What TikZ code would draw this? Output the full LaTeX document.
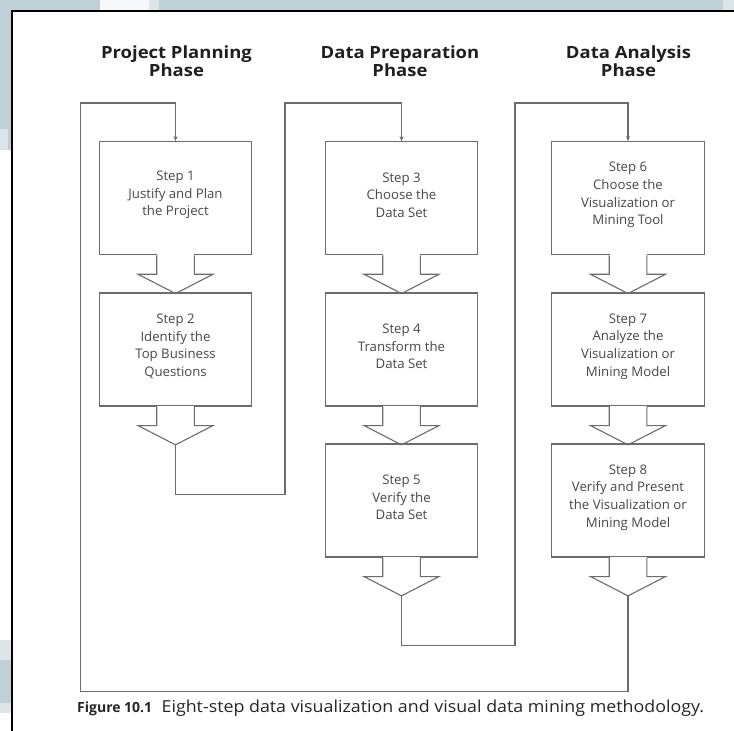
\documentclass[tikz,border=0pt]{standalone}
\usepackage{fontspec}
\setmainfont{Open Sans}
\usetikzlibrary{arrows.meta,calc}
\definecolor{bgblue}{HTML}{BFD1D7}
\definecolor{bglight}{HTML}{DCE5E8}
\definecolor{bgwhite}{HTML}{F6F8F9}
\definecolor{linegray}{HTML}{6C6C6C}
\definecolor{txtgray}{HTML}{484848}
\newcommand{\wide}[1]{\scalebox{1.1}[1]{#1}}
\begin{document}
\begin{tikzpicture}[x=1pt,y=-1pt,
  stepbox/.style={draw=linegray, line width=1.1pt, minimum width=152.4pt, minimum height=113pt, inner sep=0pt},
  steptext/.style={align=center, font=\fontsize{13.2}{17.6}\selectfont, text=txtgray},
  phase/.style={align=center, font=\bfseries\fontsize{16.8}{18}\selectfont, text=black!88, inner sep=0pt, anchor=north},
  conn/.style={draw=linegray, line width=1.1pt, -{Stealth[length=5pt,width=4pt]}},
  blk/.style={draw=linegray, line width=1.1pt, line join=miter},
]
\useasboundingbox (0,0) rectangle (734,731);
% page background
\fill[bgblue] (0,0) rectangle (734,731);
\fill[bgwhite] (100,0) rectangle (149,11);
\fill[bglight] (149,0) rectangle (159,11);
\fill[bglight] (723,0) rectangle (734,11);
\fill[bglight] (0,129) rectangle (8,150);
\fill[white] (0,150) rectangle (11,640);
\fill[bglight] (0,640) rectangle (11,660);
\fill[bglight] (0,703) rectangle (11,713);
\fill[white] (0,713) rectangle (11,731);
\fill[white] (11,11) rectangle (734,731);
\draw[black, line width=2pt] (12,731) -- (12,11.3) -- (734,11.3);

% phase headings
\node[phase] (h1) at (176.5,46) {\wide{Project Planning}\\\wide{Phase}};
\node[phase] (h2) at (400,46) {\wide{Data Preparation}\\\wide{Phase}};
\node[phase] (h3) at (628.5,46) {\wide{Data Analysis}\\\wide{Phase}};

% step boxes
\node[stepbox] (s1) at (175.5,198.2) {};
\node[stepbox] (s2) at (175.5,349.5) {};
\node[stepbox] (s3) at (401.5,198.2) {};
\node[stepbox] (s4) at (401.5,349.5) {};
\node[stepbox] (s5) at (401.5,500.5) {};
\node[stepbox] (s6) at (628,198.2) {};
\node[stepbox] (s7) at (628,349.5) {};
\node[stepbox] (s8) at (628,500.5) {};

\node[steptext] (l1) at ($(s1.center)+(0,-3)$) {Step 1\\Justify and Plan\\the Project};
\node[steptext] (l2) at ($(s2.center)+(0,-3)$) {Step 2\\Identify the\\Top Business\\Questions};
\node[steptext] (l3) at ($(s3.center)+(0,-3)$) {Step 3\\Choose the\\Data Set};
\node[steptext] (l4) at ($(s4.center)+(0,-3)$) {Step 4\\Transform the\\Data Set};
\node[steptext] (l5) at ($(s5.center)+(0,-3)$) {Step 5\\Verify the\\Data Set};
\node[steptext] (l6) at ($(s6.center)+(0,-3)$) {Step 6\\Choose the\\Visualization or\\Mining Tool};
\node[steptext] (l7) at ($(s7.center)+(0,-3)$) {Step 7\\Analyze the\\Visualization or\\Mining Model};
\node[steptext] (l8) at ($(s8.center)+(0,-3)$) {Step 8\\Verify and Present\\the Visualization or\\Mining Model};

% block arrows under every box
\foreach \b in {s1,s2,s3,s4,s5,s6,s7,s8}{
  \fill[white] ($(\b.south)+(-18.5,-1)$) rectangle ($(\b.south)+(18.5,1)$);
  \draw[blk] ($(\b.south)+(-18.8,0)$) -- ++(0,19) -- ++(-18.7,0) -- ($(\b.south)+(0,38.3)$)
     -- ($(\b.south)+(37.5,19)$) -- ++(-18.7,0) -- ++(0,-19);
  \coordinate (t\b) at ($(\b.south)+(0,38.3)$);
}

% connectors between phases
\draw[conn] (ts2) -- ++(0,50) -| (285,103) -| (s3.north);
\draw[conn] (ts5) -- ++(0,50) -| (515,103) -| (s6.north);
\draw[conn] (ts8) -- ++(0,95.5) -| (80.5,103) -| (s1.north);

% caption
\node[anchor=base west, inner sep=0pt, font=\bfseries\fontsize{14}{16}\selectfont, text=black!85] (capl) at (77,712) {Figure 10.1};
\node[anchor=base west, inner sep=0pt, font=\fontsize{16.5}{18}\selectfont, text=black!85] (capt) at ($(capl.base east)+(9,0)$)
  {\scalebox{1.08}[1]{Eight-step data visualization and visual data mining methodology.}};
\end{tikzpicture}
\end{document}
